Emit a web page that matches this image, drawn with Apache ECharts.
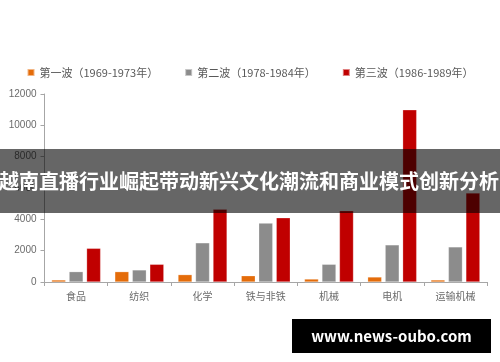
<!DOCTYPE html>
<html><head><meta charset="utf-8">
<script src="https://cdn.jsdelivr.net/npm/echarts@6/dist/echarts.min.js"></script>
<style>html,body{margin:0;padding:0;background:#fff}#c{width:500px;height:362px}</style>
</head><body><div id="c"></div>
<script>
const categories = ['食品','纺织','化学','铁与非铁','机械','电机','运输机械'];
const wave1 = [130, 660, 470, 400, 190, 320, 130];
const wave2 = [660, 770, 2500, 3760, 1130, 2370, 2240];
const wave3 = [2150, 1130, 4650, 4100, 4550, 10990, 5680];
const seriesNames = ['第一波（1969-1973年）','第二波（1978-1984年）','第三波（1986-1989年）'];
const colors = ['#E46C0A','#8C8C8C','#C00000'];
const bannerText = '越南直播行业崛起带动新兴文化潮流和商业模式创新分析';
const watermark = 'www.news-oubo.com';

const chart = echarts.init(document.getElementById('c'));
const font = '"Noto Sans CJK SC", "Noto Sans", sans-serif';
const mk = (name, data, i) => ({
  name, type: 'bar', data, barWidth: 14, barGap: '25%',
  itemStyle: { color: colors[i], borderColor: 'rgba(255,255,255,0.5)', borderWidth: 0.5 }
});
chart.setOption({
  animation: false,
  color: colors,
  textStyle: { fontFamily: font },
  legend: {
    top: 62, left: 'center', itemWidth: 7, itemHeight: 7, itemGap: 26,
    icon: 'rect',
    textStyle: { fontSize: 11, color: '#595959', fontFamily: font },
    data: seriesNames
  },
  grid: { left: 44.5, right: 13, top: 94, bottom: 80, containLabel: false },
  xAxis: {
    type: 'category', data: categories,
    axisLine: { lineStyle: { color: '#A6A6A6' } },
    axisTick: { show: true, length: 4, lineStyle: { color: '#A6A6A6' } },
    axisLabel: { fontSize: 10, color: '#6b6b6b', margin: 9 }
  },
  yAxis: {
    type: 'value', min: 0, max: 12000, interval: 2000,
    axisLine: { show: true, lineStyle: { color: '#A6A6A6' } },
    axisTick: { show: true, length: 4, lineStyle: { color: '#A6A6A6' } },
    splitLine: { show: false },
    axisLabel: { fontSize: 10, color: '#6b6b6b', margin: 8, fontFamily: '"Liberation Sans", Arial, sans-serif',
      formatter: v => String(v) }
  },
  series: [mk(seriesNames[0], wave1, 0), mk(seriesNames[1], wave2, 1), mk(seriesNames[2], wave3, 2)],
  graphic: [
    { type: 'rect', z: 100, shape: { x: 0, y: 149, width: 500, height: 64 }, style: { fill: 'rgba(0,0,0,0.6)' } },
    { type: 'text', z: 101, x: 249, y: 181, style: { text: bannerText, fill: '#fff', font: 'bold 20px ' + font, align: 'center', verticalAlign: 'middle' } },
    { type: 'rect', z: 100, shape: { x: 292, y: 319, width: 199, height: 34 }, style: { fill: '#000' } },
    { type: 'text', z: 101, x: 391.5, y: 336, style: { text: watermark, fill: '#fff', font: 'bold 15px ' + font, align: 'center', verticalAlign: 'middle' } }
  ]
});
</script></body></html>
